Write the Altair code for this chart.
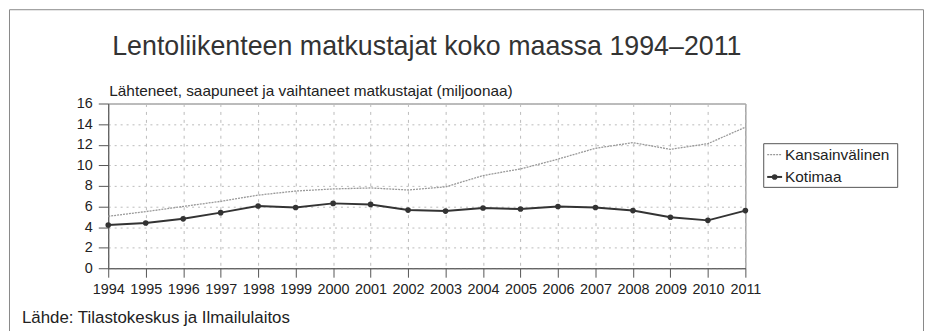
import altair as alt
import pandas as pd

# ---- data ----
years = list(range(1994, 2012))
kansainvalinen = [5.05, 5.5, 6.0, 6.5, 7.1, 7.5, 7.7, 7.8, 7.6, 7.9, 9.0, 9.65, 10.6, 11.65, 12.2, 11.55, 12.1, 13.7]
kotimaa = [4.2, 4.4, 4.8, 5.4, 6.05, 5.9, 6.3, 6.2, 5.65, 5.55, 5.85, 5.75, 6.0, 5.9, 5.6, 4.95, 4.65, 5.6]
series_names = ["Kansainvälinen", "Kotimaa"]
y_ticks = list(range(0, 17, 2))
title_text = "Lentoliikenteen matkustajat koko maassa 1994–2011"
subtitle_text = "Lähteneet, saapuneet ja vaihtaneet matkustajat (miljoonaa)"
source_text = "Lähde: Tilastokeskus ja Ilmailulaitos"

FONT = "Liberation Sans"
W, H = 642, 166

df_int = pd.DataFrame({"vuosi": years, "arvo": kansainvalinen, "sarja": series_names[0]})
df_dom = pd.DataFrame({"vuosi": years, "arvo": kotimaa, "sarja": series_names[1]})

x_enc = alt.X(
    "vuosi:Q",
    scale=alt.Scale(domain=[1994, 2011], nice=False, zero=False),
    axis=alt.Axis(
        values=years, format="d", title=None, grid=True,
        gridDash=[3, 5], gridColor="#bbbbbb", gridWidth=1,
        tickSize=9, tickColor="#555555", domainColor="#555555",
        labelPadding=5, labelFontSize=14.5, labelFont=FONT, labelColor="#222222",
        labelFlush=False, labelOverlap=False,
    ),
)
y_enc = alt.Y(
    "arvo:Q",
    scale=alt.Scale(domain=[0, 16], nice=False),
    axis=alt.Axis(
        values=y_ticks, title=None, grid=True,
        gridDash=[2, 4], gridColor="#bbbbbb", gridWidth=1,
        tickSize=10, tickColor="#555555", domainColor="#555555",
        labelPadding=6, labelFontSize=14.5, labelFont=FONT, labelColor="#222222",
    ),
)

line_int = alt.Chart(df_int).mark_line(
    color="#999999", strokeWidth=1.3, strokeDash=[2, 1]
).encode(x=x_enc, y=y_enc)

line_dom = alt.Chart(df_dom).mark_line(
    color="#333333", strokeWidth=2,
    point=alt.OverlayMarkDef(color="#333333", size=32, filled=True),
).encode(x=x_enc, y=y_enc)

one = pd.DataFrame({"k": [0]})

frame = alt.Chart(one).mark_rect(fillOpacity=0, stroke="#888888", strokeWidth=1).encode(
    x=alt.value(-99.5), x2=alt.value(821.5), y=alt.value(-94.5), y2=alt.value(400)
)

def text_layer(txt, xv, yv, size, align="left", baseline="alphabetic", color="#333333"):
    return alt.Chart(pd.DataFrame({"t": [txt]})).mark_text(
        align=align, baseline=baseline, fontSize=size, font=FONT, color=color
    ).encode(text="t:N", x=alt.value(xv), y=alt.value(yv))

title = text_layer(title_text, 4, -49, 27)
subtitle = text_layer(subtitle_text, 1, -8, 15.5, color="#222222")
source = text_layer(source_text, -87, 221, 17, color="#222222")

legend_box = alt.Chart(one).mark_rect(fill="white", stroke="#555555", strokeWidth=1).encode(
    x=alt.value(660.5), x2=alt.value(795.5), y=alt.value(40.5), y2=alt.value(84.5)
)
leg_line1 = alt.Chart(one).mark_rule(color="#999999", strokeWidth=1.3, strokeDash=[2, 1]).encode(
    x=alt.value(664), x2=alt.value(679), y=alt.value(51.5)
)
leg_line2 = alt.Chart(one).mark_rule(color="#333333", strokeWidth=2).encode(
    x=alt.value(664), x2=alt.value(679), y=alt.value(74)
)
leg_point = alt.Chart(one).mark_point(color="#333333", size=32, filled=True, opacity=1).encode(
    x=alt.value(671.5), y=alt.value(74)
)
leg_text1 = text_layer(series_names[0], 682, 52, 15.5, baseline="middle", color="#222222")
leg_text2 = text_layer(series_names[1], 682, 74, 15.5, baseline="middle", color="#222222")

chart = alt.layer(
    frame, line_int, line_dom, title, subtitle, source,
    legend_box, leg_line1, leg_line2, leg_point, leg_text1, leg_text2,
).properties(
    width=W, height=H,
    autosize=alt.AutoSizeParams(type="none"),
    padding={"left": 101, "top": 95, "right": 180, "bottom": 62},
    background="white",
).configure_view(stroke="#777777", strokeWidth=1)

chart.save("out.html", embed_options={"renderer": "svg", "actions": False})
